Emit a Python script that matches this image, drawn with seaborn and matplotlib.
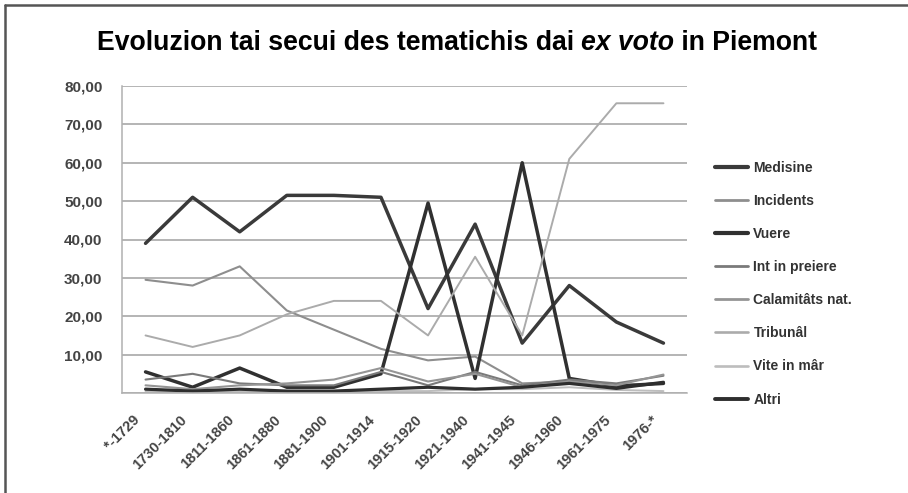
import matplotlib
matplotlib.use("Agg")
import matplotlib.pyplot as plt
import matplotlib.transforms as mtransforms
import seaborn as sns
import pandas as pd
from matplotlib.lines import Line2D

periods = ["*-1729", "1730-1810", "1811-1860", "1861-1880", "1881-1900", "1901-1914",
           "1915-1920", "1921-1940", "1941-1945", "1946-1960", "1961-1975", "1976-*"]

medisine = [39, 51, 42, 51.5, 51.5, 51, 22, 44, 13, 28, 18.5, 13]
incidents = [29.5, 28, 33, 21.5, 16.5, 11.5, 8.5, 9.5, 2.5, 3, 2, 2.5]
vuere = [5.5, 1.5, 6.5, 1.5, 1.5, 5, 49.5, 3.8, 60, 3.8, 1.8, 2.5]
int_in_preiere = [3.5, 5, 2.5, 2, 2, 5.5, 2, 5.5, 2, 3.5, 2.5, 4.5]
calamitats = [2, 1, 2, 2.5, 3.5, 6.5, 3, 5, 1.5, 3, 2, 4.8]
tribunal = [15, 12, 15, 20.5, 24, 24, 15, 35.5, 15, 61, 75.5, 75.5]
vite_in_mar = [0.5, 0.5, 0.5, 0.5, 0.5, 0.5, 0.5, 1, 1, 1.5, 0.8, 0.5]
altri = [1, 0.5, 1, 0.5, 0.5, 1, 1.5, 1, 1.5, 2.5, 1.2, 2.8]

series_names = ["Medisine", "Incidents", "Vuere", "Int in preiere", "Calamitâts nat.",
                "Tribunâl", "Vite in mâr", "Altri"]
series_values = [medisine, incidents, vuere, int_in_preiere, calamitats,
                 tribunal, vite_in_mar, altri]
colors = ["#3a3a3a", "#8e8e8e", "#303030", "#7a7a7a", "#959595",
          "#ababab", "#bdbdbd", "#2e2e2e"]
widths = [2.5, 1.5, 2.5, 1.5, 1.5, 1.4, 1.4, 2.3]

sns.set_theme(style="white")
plt.rcParams["font.family"] = ["Liberation Sans", "DejaVu Sans"]

fig = plt.figure(figsize=(9.08, 4.93), dpi=100)
ax = fig.add_axes([122 / 908, 1 - 393 / 493, (687 - 122) / 908, (393 - 86) / 493])

rows = []
for name, vals in zip(series_names, series_values):
    for i, v in enumerate(vals):
        rows.append({"serie": name, "x": i, "v": v})
df = pd.DataFrame(rows)

for name, c, w in zip(series_names, colors, widths):
    sub = df[df["serie"] == name]
    sns.lineplot(data=sub, x="x", y="v", ax=ax, color=c, linewidth=w,
                 legend=False, sort=False)

ax.set_xlim(-0.5, 11.5)
ax.set_ylim(0, 80)
ax.set_yticks(range(0, 81, 10))
ax.set_yticklabels([("%.2f" % t).replace(".", ",") if t > 0 else "" for t in range(0, 81, 10)])
ax.set_xticks(range(len(periods)))
ax.set_xticklabels(periods, rotation=45, ha="right", va="top", rotation_mode="anchor")
ax.set_xlabel("")
ax.set_ylabel("")
ax.yaxis.grid(True, color="#a0a0a0", linewidth=1.1)
ax.set_axisbelow(True)
for s in ["top", "right"]:
    ax.spines[s].set_visible(False)
ax.spines["left"].set_color("#b0b0b0")
ax.spines["bottom"].set_color("#b0b0b0")
ax.spines["left"].set_linewidth(1.1)
ax.spines["bottom"].set_linewidth(1.1)
ax.tick_params(axis="y", labelsize=11, labelcolor="#444444", pad=14, length=0)
ax.tick_params(axis="x", labelsize=10.5, labelcolor="#444444", pad=9, length=0)
offset = mtransforms.ScaledTranslation(-0.13, -0.07, fig.dpi_scale_trans)
for lab in ax.get_xticklabels():
    lab.set_transform(lab.get_transform() + offset)
for lab in ax.get_yticklabels() + ax.get_xticklabels():
    lab.set_fontweight("bold")

handles = [Line2D([0], [0], color=c, linewidth=w + 0.5) for c, w in zip(colors, widths)]
fig.legend(handles, series_names, loc="upper left", bbox_to_anchor=(702 / 908, 1 - 148 / 493),
           frameon=False, handlelength=2.4, labelspacing=1.38,
           handletextpad=0.4, prop={"weight": "bold", "size": 10})
leg = fig.legends[0]
for t in leg.get_texts():
    t.set_color("#333333")

# Title with italic part
parts = [("Evoluzion tai secui des tematichis dai ", "normal"), ("ex voto", "italic"),
         (" in Piemont", "normal")]
fig.canvas.draw()
renderer = fig.canvas.get_renderer()
texts = []
for s, style in parts:
    t = fig.text(0, 1 - 43 / 493, s, fontsize=19.2, fontweight="bold", style=style,
                 va="center", ha="left", color="black")
    texts.append(t)
ws = [t.get_window_extent(renderer).width for t in texts]
total = sum(ws)
x0 = (457 - total / 2)
for t, w in zip(texts, ws):
    t.set_x(x0 / 908)
    x0 += w

# frame
fig.add_artist(Line2D([5 / 908, 5 / 908], [0, 1 - 5 / 493], color="#555555", linewidth=1.8,
                      transform=fig.transFigure))
fig.add_artist(Line2D([5 / 908, 1], [1 - 5 / 493, 1 - 5 / 493], color="#555555", linewidth=1.8,
                      transform=fig.transFigure))

fig.savefig("out.png", dpi=100, facecolor="white")
